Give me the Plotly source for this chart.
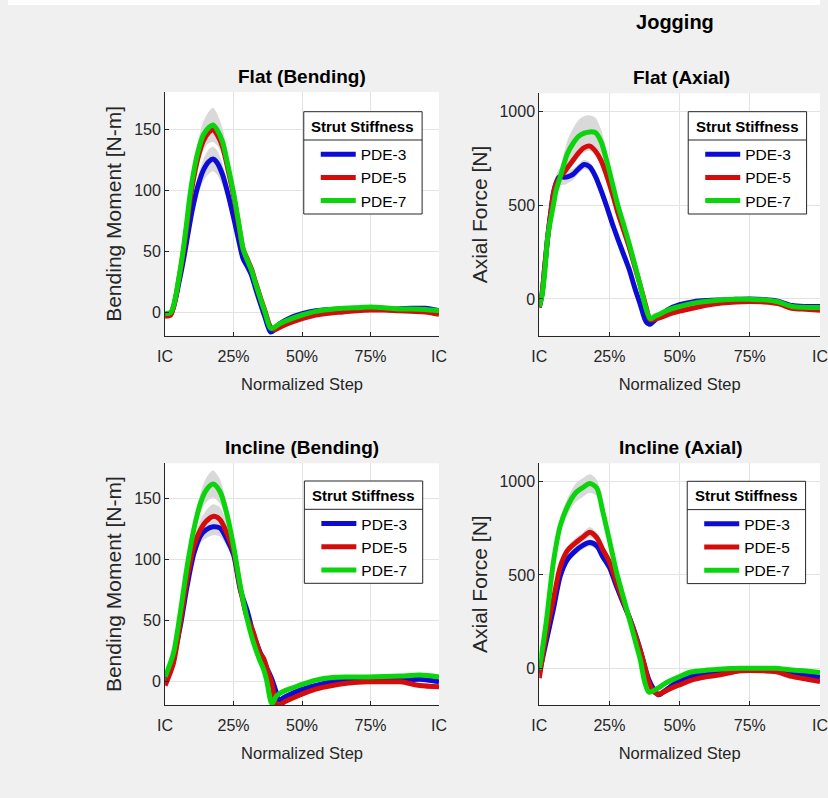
import numpy as np
import plotly.graph_objects as go

# ---------------- data ----------------
tick_vals = [0, 25, 50, 75, 100]
tick_text = ["IC", "25%", "50%", "75%", "IC"]
series_names = ["PDE-3", "PDE-5", "PDE-7"]
bend_ticks = [0, 50, 100, 150]
axial_ticks = [0, 500, 1000]
flat_bend_ylim = [-19, 181]
flat_axial_ylim = [-196, 1098]
incl_bend_ylim = [-19, 179]
incl_axial_ylim = [-197, 1098]

# Flat (Bending)
flat_bend_x = [0, 2, 3, 4, 5, 6, 7, 8, 9, 10, 12, 14, 16, 17.5, 19, 21, 23, 25, 27, 28.5,
               30, 31.5, 33, 35, 36.5, 38.5, 40, 42, 45, 50, 55, 60, 65, 70, 75, 80, 85, 90, 95, 100]
flat_bend_pde3 = [-2, -1, 4, 13, 24, 35, 47, 60, 73, 85, 104, 117, 124, 126, 123, 113, 97, 78, 58, 44,
                  38, 31, 20, 6, -4, -16, -14, -9, -5, -1, 1.5, 2.5, 3, 3.5, 3.5, 3, 3, 3.5, 3.5, 1.5]
flat_bend_pde5 = [-3, -2, 4, 14, 27, 40, 55, 72, 90, 105, 127, 141, 148, 150, 146, 136, 117, 96, 70, 52,
                  44, 36, 25, 11, 1, -12, -14, -12, -9, -5, -2, -0.5, 0.5, 1.5, 2, 2, 1.5, 1, 0.5, -1.5]
flat_bend_pde7 = [-1, 0, 5, 15, 28, 42, 58, 76, 95, 110, 132, 146, 152, 154, 150, 140, 120, 98, 72, 52,
                  43, 35, 24, 10, 0, -13, -12, -9, -6, -2, 1, 2.5, 3.5, 4, 4.5, 4, 3, 3, 2.5, 1.5]
flat_bend_sd3 = [1, 1, 1, 2, 2, 3, 4, 5, 6, 7, 8, 9, 10, 10, 10, 9, 7, 6, 4, 3,
                 3, 3, 2, 2, 2, 2, 2, 2, 1, 1, 1, 1, 1, 1, 1, 1, 1, 1, 1, 1]
flat_bend_sd5 = [1, 1, 1, 2, 2, 3, 3, 4, 5, 6, 7, 8, 8, 8, 8, 7, 6, 5, 4, 3,
                 3, 3, 2, 2, 2, 2, 2, 2, 1, 1, 1, 1, 1, 1, 1, 1, 1, 1, 1, 1]
flat_bend_sd7 = [1, 1, 1, 2, 3, 3, 4, 5, 6, 7, 9, 11, 13, 14, 13, 11, 9, 7, 5, 4,
                 3, 3, 3, 2, 2, 2, 2, 2, 2, 1, 1, 1, 1, 1, 1, 1, 1, 1, 1, 1]

# Flat (Axial)
flat_axial_x = [0, 1, 2, 3, 4, 5, 6, 7, 8, 9, 10, 12, 14, 16, 18, 20, 22, 24, 26, 28,
                30, 32, 34, 36, 38, 39.5, 41, 43, 46, 50, 55, 60, 65, 70, 75, 80, 85, 90, 95, 100]
flat_axial_pde3 = [-45, 30, 180, 330, 450, 560, 620, 650, 652, 650, 652, 665, 695, 718, 705, 655, 580, 495, 403, 320,
                   240, 160, 60, -30, -120, -135, -115, -90, -55, -30, -14, -8, -5, -2, 0, -3, -12, -35, -40, -40]
flat_axial_pde5 = [-45, 30, 180, 330, 450, 560, 615, 640, 662, 680, 700, 740, 780, 808, 816, 790, 740, 660, 565, 460,
                   370, 279, 175, 70, -40, -112, -108, -100, -82, -65, -48, -32, -22, -16, -14, -16, -25, -50, -55, -60]
flat_axial_pde7 = [-40, 20, 150, 330, 420, 500, 580, 630, 680, 730, 775, 830, 868, 885, 892, 888, 840, 740, 620, 500,
                   400, 297, 185, 70, -50, -105, -95, -80, -58, -40, -22, -12, -5, -2, -2, -4, -15, -40, -45, -45]
flat_axial_sd3 = [10, 10, 15, 20, 25, 30, 40, 45, 45, 40, 35, 30, 25, 25, 25, 25, 20, 20, 20, 20,
                  15, 15, 15, 15, 15, 15, 15, 15, 10, 10, 10, 10, 10, 10, 10, 10, 10, 10, 10, 10]
flat_axial_sd5 = [10, 10, 15, 20, 20, 25, 25, 25, 25, 25, 25, 25, 25, 25, 25, 25, 25, 20, 20, 20,
                  20, 15, 15, 15, 15, 15, 15, 15, 10, 10, 10, 10, 10, 10, 10, 10, 10, 10, 10, 10]
flat_axial_sd7 = [10, 10, 15, 20, 25, 30, 35, 40, 50, 60, 70, 80, 88, 90, 88, 80, 65, 50, 40, 30,
                  25, 20, 20, 20, 20, 20, 20, 15, 15, 15, 10, 10, 10, 10, 10, 10, 10, 10, 10, 10]

# Incline (Bending)
incl_bend_x = [0, 3, 5.5, 8, 10.5, 13, 15, 17.5, 20, 22.5, 25, 27.5, 30, 32, 34.5, 36, 37, 39, 40.5, 41.5,
               44, 49, 55, 61, 67, 74, 80, 86, 93, 100]
incl_bend_pde3 = [3, 20, 45, 78, 105, 120, 124.6, 127, 126, 117, 104, 75, 58, 41, 25, 18, 12, 2, -8, -15,
                  -12, -7, -3, 0, 1, 2, 2, 1.4, 2, 0]
incl_bend_pde5 = [-3, 15, 48, 84, 111, 125, 131.5, 135.5, 133, 122, 107, 76, 52, 42, 24, 19, 12, -1.4, -18, -19,
                  -16, -11, -6, -3, -1, 0, 0, 0, -3, -4]
incl_bend_pde7 = [4, 23, 56, 94, 125, 147, 157, 162, 156, 138, 111, 78, 51, 34, 18, 10, 2, -18, -12, -10,
                  -7, -3, 1.4, 3.6, 4, 4, 4.3, 4.7, 5.5, 4]
incl_bend_sd3 = [1, 2, 3, 4, 5, 6, 7, 7, 7, 6, 5, 4, 3, 2, 2, 2, 2, 2, 2, 2,
                 2, 1, 1, 1, 1, 1, 1, 1, 1, 1]
incl_bend_sd5 = [1, 2, 3, 4, 6, 8, 9, 10, 10, 9, 7, 5, 3, 2, 2, 2, 2, 2, 2, 2,
                 2, 1, 1, 1, 1, 1, 1, 1, 1, 1]
incl_bend_sd7 = [1, 2, 3, 4, 6, 8, 10, 11, 10, 8, 6, 4, 3, 2, 2, 2, 2, 2, 2, 2,
                 2, 1, 1, 1, 1, 1, 1, 1, 1, 1]

# Incline (Axial)
incl_axial_x = [0, 2.5, 5, 7.5, 10, 13, 15.5, 18, 20.5, 22.5, 25, 27.5, 30, 32, 34.5, 36, 37.5, 39, 40.5, 42.5,
                45, 48, 50, 54, 60, 64, 72, 80, 84, 90, 95, 100]
incl_axial_pde3 = [-27, 145, 315, 495, 582, 630, 658, 673, 655, 600, 540, 440, 346, 275, 170, 95, 12, -60, -105, -142,
                   -118, -85, -70, -45, -25, -18, -5, -5, -5, -23, -35, -48]
incl_axial_pde5 = [-53, 185, 365, 545, 630, 673, 702, 729, 700, 640, 569, 460, 355, 275, 165, 95, 15, -75, -120, -140,
                   -122, -100, -89, -65, -45, -36, -14, -14, -18, -44, -58, -71]
incl_axial_pde7 = [-9, 250, 565, 765, 865, 940, 968, 990, 965, 848, 684, 515, 378, 268, 128, 45, -70, -128, -122, -105,
                   -80, -58, -44, -20, -10, -5, 0, 0, 0, -9, -15, -23]
incl_axial_sd3 = [10, 15, 20, 20, 20, 20, 20, 20, 20, 18, 15, 15, 15, 15, 15, 15, 15, 15, 15, 15,
                  10, 10, 10, 10, 10, 10, 10, 10, 10, 10, 10, 10]
incl_axial_sd5 = [10, 15, 20, 25, 25, 25, 25, 28, 25, 22, 20, 18, 15, 15, 15, 15, 15, 15, 15, 15,
                  10, 10, 10, 10, 10, 10, 10, 10, 10, 10, 10, 10]
incl_axial_sd7 = [10, 20, 30, 40, 45, 50, 50, 50, 45, 40, 30, 25, 20, 20, 20, 20, 15, 15, 15, 15,
                  10, 10, 10, 10, 10, 10, 10, 10, 10, 10, 10, 10]

# ---------------- styling / layout ----------------
W, H = 828, 798
FONT = "Liberation Sans, Arial, Helvetica, sans-serif"
AX = "#262626"
GRID = "#e3e3e3"
COLORS = ["#0c0cd4", "#d40c0c", "#0cd40c"]
BAND = "#d9d9d9"
LW = 5

# the page is shown with an ~8 px side gutter and a 0.981 horizontal fit;
# horizontal layout positions are given in screen pixels and mapped back here
X_OFF, X_SCALE = 7.85, 0.981


def px(v):
    return min(1.0, max(0.0, (v - X_OFF) / X_SCALE / W))


def py(v):
    return 1 - v / H


panels = [
    dict(title="Flat (Bending)", ylabel="Bending Moment [N-m]", x=flat_bend_x,
         ys=[flat_bend_pde3, flat_bend_pde5, flat_bend_pde7],
         sds=[flat_bend_sd3, flat_bend_sd5, flat_bend_sd7],
         ylim=flat_bend_ylim, yt=bend_ticks,
         area=(165, 439, 92, 335.7), lbox=(303.7, 111.7)),
    dict(title="Flat (Axial)", ylabel="Axial Force [N]", x=flat_axial_x,
         ys=[flat_axial_pde3, flat_axial_pde5, flat_axial_pde7],
         sds=[flat_axial_sd3, flat_axial_sd5, flat_axial_sd7],
         ylim=flat_axial_ylim, yt=axial_ticks,
         area=(539.3, 823.3, 93.3, 335.7), lbox=(688.3, 111.7)),
    dict(title="Incline (Bending)", ylabel="Bending Moment [N-m]", x=incl_bend_x,
         ys=[incl_bend_pde3, incl_bend_pde5, incl_bend_pde7],
         sds=[incl_bend_sd3, incl_bend_sd5, incl_bend_sd7],
         ylim=incl_bend_ylim, yt=bend_ticks,
         area=(165, 439, 463.3, 705), lbox=(304.3, 481)),
    dict(title="Incline (Axial)", ylabel="Axial Force [N]", x=incl_axial_x,
         ys=[incl_axial_pde3, incl_axial_pde5, incl_axial_pde7],
         sds=[incl_axial_sd3, incl_axial_sd5, incl_axial_sd7],
         ylim=incl_axial_ylim, yt=axial_ticks,
         area=(539.3, 822.3, 463.3, 705), lbox=(687.3, 481.3)),
]

LBW, LBH = 118.4, 102.3

fig = go.Figure()
layout = dict(
    width=W, height=H,
    margin=dict(l=0, r=0, t=0, b=0),
    paper_bgcolor="#f0f0f0",
    plot_bgcolor="white",
    font=dict(family=FONT, color=AX),
    title=dict(text="<b>Jogging</b>", x=px(675), y=py(22), xref="paper", yref="paper",
               xanchor="center", yanchor="middle",
               font=dict(family=FONT, size=20, color="black")),
    shapes=[
        dict(type="rect", xref="paper", yref="paper", x0=0, x1=1, y0=py(5), y1=1,
             fillcolor="white", line=dict(width=0), layer="below"),
    ],
    annotations=[],
)

for i, p in enumerate(panels, start=1):
    sfx = "" if i == 1 else str(i)
    xa, ya, lg = "x" + sfx, "y" + sfx, "legend" + sfx
    x = np.array(p["x"], dtype=float)
    for y, sd in zip(p["ys"], p["sds"]):
        y = np.array(y, dtype=float)
        sd = np.array(sd, dtype=float)
        fig.add_trace(go.Scatter(x=x, y=y + sd, mode="lines",
                                 line=dict(width=0, shape="spline", smoothing=0.8),
                                 xaxis=xa, yaxis=ya, showlegend=False, hoverinfo="skip"))
        fig.add_trace(go.Scatter(x=x, y=y - sd, mode="lines",
                                 line=dict(width=0, shape="spline", smoothing=0.8),
                                 fill="tonexty", fillcolor=BAND,
                                 xaxis=xa, yaxis=ya, showlegend=False, hoverinfo="skip"))
    for name, y, c in zip(series_names, p["ys"], COLORS):
        fig.add_trace(go.Scatter(x=x, y=y, mode="lines", name=name,
                                 line=dict(color=c, width=LW, shape="spline", smoothing=0.8),
                                 xaxis=xa, yaxis=ya, legend=lg, showlegend=True))

    l, r, t, b = p["area"]
    layout["xaxis" + sfx] = dict(
        domain=[px(l), px(r)], anchor=ya, range=[0, 100],
        tickmode="array", tickvals=tick_vals, ticktext=tick_text,
        showgrid=True, gridcolor=GRID, zeroline=False,
        showline=True, linecolor=AX, linewidth=1, mirror=False,
        ticks="inside", ticklen=4, tickcolor=AX,
        tickfont=dict(family=FONT, size=16, color=AX),
        ticklabelstandoff=6, ticklabeloverflow="allow",
        title=dict(text="Normalized Step", font=dict(family=FONT, size=16.5, color=AX), standoff=14),
        fixedrange=True,
    )
    layout["yaxis" + sfx] = dict(
        domain=[py(b), py(t)], anchor=xa, range=p["ylim"],
        tickmode="array", tickvals=p["yt"],
        showgrid=True, gridcolor=GRID, zeroline=False,
        showline=True, linecolor=AX, linewidth=1, mirror=False,
        ticks="inside", ticklen=4, tickcolor=AX,
        tickfont=dict(family=FONT, size=16, color=AX),
        title=dict(text=p["ylabel"], font=dict(family=FONT, size=21, color=AX), standoff=6),
        fixedrange=True,
    )
    layout["annotations"].append(dict(
        text="<b>%s</b>" % p["title"], xref="paper", yref="paper",
        x=px((l + r) / 2), y=py(t - 16), xanchor="center", yanchor="middle",
        showarrow=False, font=dict(family=FONT, size=19, color="black")))

    bx, by = p["lbox"]
    layout["shapes"].append(dict(type="rect", xref="paper", yref="paper",
                                 x0=px(bx), x1=px(bx + LBW), y0=py(by + LBH), y1=py(by),
                                 fillcolor="white", line=dict(color=AX, width=1), layer="above"))
    layout["shapes"].append(dict(type="line", xref="paper", yref="paper",
                                 x0=px(bx), x1=px(bx + LBW), y0=py(by + 28.3), y1=py(by + 28.3),
                                 line=dict(color=AX, width=1), layer="above"))
    layout["annotations"].append(dict(
        text="<b>Strut Stiffness</b>", xref="paper", yref="paper",
        x=px(bx + LBW / 2), y=py(by + 14.3), xanchor="center", yanchor="middle",
        showarrow=False, font=dict(family=FONT, size=15, color="black")))
    layout[lg] = dict(
        x=px(bx + 12), y=py(by + 26), xanchor="left", yanchor="top",
        xref="paper", yref="paper",
        bgcolor="rgba(0,0,0,0)", borderwidth=0, traceorder="normal",
        font=dict(family=FONT, size=15.5, color="black"),
        itemwidth=35, tracegroupgap=0,
    )

fig.update_layout(**layout)
fig.write_html(
    "out.html",
    post_script="var bg='linear-gradient(#ffffff,#ffffff) left top/100% 5px no-repeat,"
                "linear-gradient(#ffffff,#ffffff) left top/5px 100% no-repeat,#f0f0f0';"
                "document.documentElement.style.background=bg;document.body.style.background=bg;",
)
